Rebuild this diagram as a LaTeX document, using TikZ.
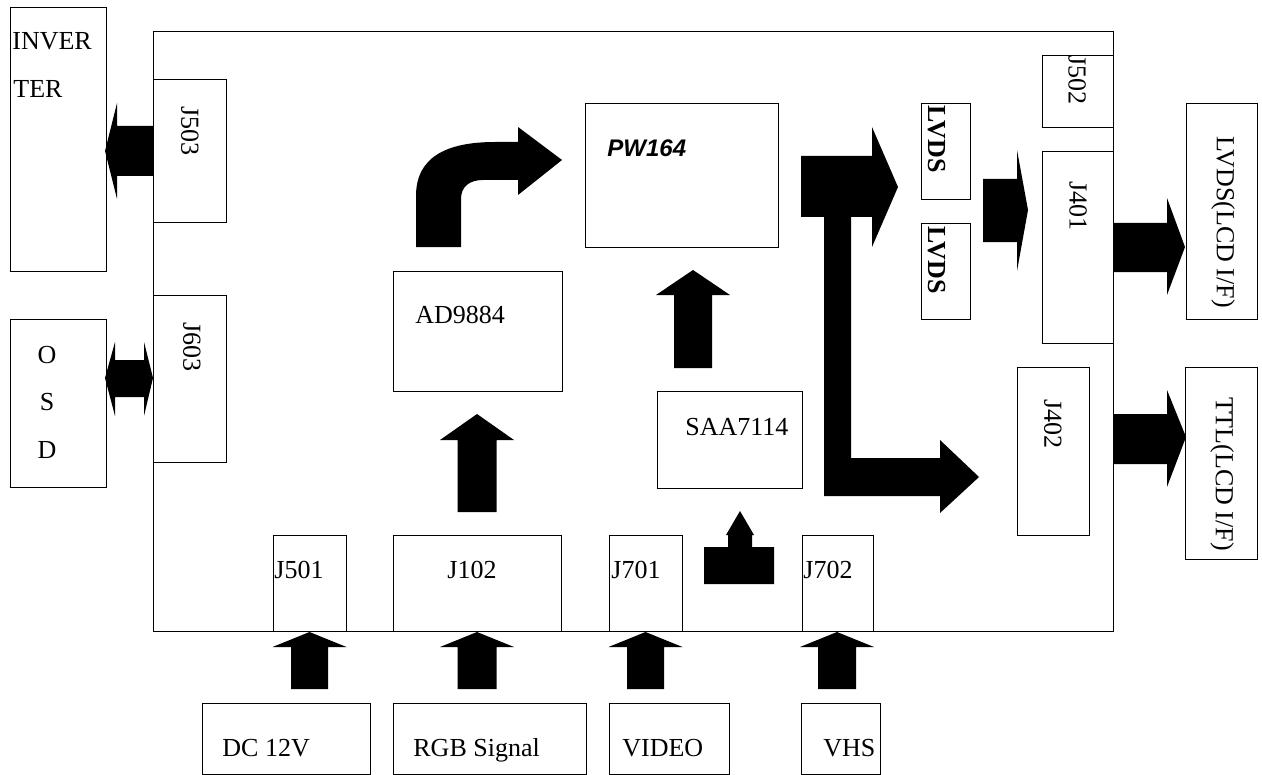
\documentclass[tikz,border=0pt]{standalone}
\usepackage{fontspec}
\setmainfont{Liberation Serif}
\newfontfamily\arialf{Liberation Sans}
\newcommand\bx[5]{\node[box, anchor=north west, minimum width={(#4-#2)*0.5pt}, minimum height={(#5-#3)*0.5pt}] (#1) at (#2,#3) {};}
\newcommand\uparr[6]{\fill[blk] (#1,#2) -- ({#1+#5},#3) -- ({#1+#6},#3) -- ({#1+#6},#4) -- ({#1-#6},#4) -- ({#1-#6},#3) -- ({#1-#5},#3) -- cycle;}
\begin{document}
\begin{tikzpicture}[x=0.5pt,y=-0.5pt,
  box/.style={draw=black, fill=white, line width=0.7pt, inner sep=0pt, rectangle},
  lbl/.style={font=\fontsize{13}{15}\selectfont, inner sep=0pt},
  blk/.style={fill=black}]
\useasboundingbox (0,0) rectangle (1262,775);
% board
\bx{board}{153}{31}{1113}{631}
% boxes
\bx{inverter}{10}{7}{106}{271}
\bx{j503}{153}{79}{226}{222}
\bx{osd}{10}{319}{106}{487}
\bx{j603}{153}{295}{226}{462}
\bx{ad9884}{393}{271}{562}{391}
\bx{pw164}{585}{103}{778}{247}
\bx{saa7114}{657}{391}{802}{488}
\bx{lvdsa}{921}{103}{970}{199}
\bx{lvdsb}{921}{223}{970}{319}
\bx{j502}{1042}{55}{1113}{127}
\bx{j401}{1042}{151}{1113}{343}
\bx{j402}{1017}{367}{1089}{535}
\bx{lcdlvds}{1186}{103}{1257}{319}
\bx{lcdttl}{1185}{367}{1257}{559}
\bx{j501}{273}{535}{346}{631}
\bx{j102}{393}{535}{561}{631}
\bx{j701}{609}{535}{682}{631}
\bx{j702}{802}{535}{873}{631}
\bx{dc}{202}{703}{370}{774}
\bx{rgb}{393}{703}{586}{774}
\bx{video}{609}{703}{729}{774}
\bx{vhs}{801}{703}{880}{774}
% labels
\node[lbl, anchor=west] (tinv1) at (12,41) {INVER};
\node[lbl, anchor=west] (tinv2) at (13,89) {TER};
\node[lbl] (to) at (47,355) {O};
\node[lbl] (ts) at (47,402) {S};
\node[lbl] (td) at (47,450) {D};
\node[lbl, rotate=-90] (tj503) at (190,131) {J503};
\node[lbl, rotate=-90] (tj603) at (192,347) {J603};
\node[lbl, anchor=west] (tad) at (415,315) {AD9884};
\node[lbl, anchor=west, font=\arialf\bfseries\itshape\fontsize{12}{14}\selectfont] (tpw) at (607,148) {PW164};
\node[lbl, anchor=west] (tsaa) at (685,427) {SAA7114};
\node[lbl, rotate=-90, font=\fontsize{13}{15}\selectfont\bfseries] (tlvdsa) at (937,139) {LVDS};
\node[lbl, rotate=-90, font=\fontsize{13}{15}\selectfont\bfseries] (tlvdsb) at (937,260) {LVDS};
\node[lbl, rotate=-90] (tj502) at (1077,80) {J502};
\node[lbl, rotate=-90] (tj401) at (1078,206) {J401};
\node[lbl, rotate=-90] (tj402) at (1053,424) {J402};
\node[lbl, rotate=-90] (tlcdl) at (1223,222) {LVDS(LCD I/F)};
\node[lbl, rotate=-90] (tlcdt) at (1222,474) {TTL(LCD I/F)};
\node[lbl, anchor=west] (tj501) at (274,570) {J501};
\node[lbl] (tj102) at (472,570) {J102};
\node[lbl, anchor=west] (tj701) at (611,570) {J701};
\node[lbl, anchor=west] (tj702) at (803,570) {J702};
\node[lbl, anchor=base west] (tdc) at (222,756) {DC 12V};
\node[lbl, anchor=base west] (trgb) at (413,756) {RGB Signal};
\node[lbl, anchor=base west] (tvid) at (622,756) {VIDEO};
\node[lbl, anchor=base west] (tvhs) at (823,756) {VHS};
% block arrows
% J503 -> INVERTER
\fill[blk] (105,151) -- (117,103) -- (117,126) -- (153,126) -- (153,176) -- (117,176) -- (117,199) -- cycle;
% OSD <-> J603
\fill[blk] (105,378) -- (115,342) -- (115,360) -- (144,360) -- (144,342) -- (153,378) -- (144,416) -- (144,397) -- (115,397) -- (115,416) -- cycle;
% AD9884 -> PW164 curved
\fill[blk] (416,247) -- (416,196) .. controls (416,158) and (445,142) .. (495,142) -- (518,142) -- (518,127) -- (562,160) -- (518,195) -- (518,180) -- (483,180) .. controls (469,180) and (461,187) .. (461,199) -- (461,247) -- cycle;
% SAA7114 -> PW164
\uparr{693}{270}{295}{368}{37}{19}
% J102 -> AD9884
\uparr{477}{414}{440}{512}{37}{19.5}
% inputs
\uparr{309.5}{632}{647}{689}{37}{18.5}
\uparr{477}{632}{647}{689}{37}{19.5}
\uparr{645.5}{632}{647}{689}{37}{18.5}
\uparr{837}{632}{647}{689}{37}{19}
% small T arrow
\fill[blk] (740,511) -- (754,535) -- (752,535) -- (752,547) -- (774,547) -- (774,584) -- (704,584) -- (704,547) -- (728,547) -- (728,535) -- (726,535) -- cycle;
% PW164 -> LVDS
\fill[blk] (801,156) -- (872,156) -- (872,127) -- (898,187) -- (872,247) -- (872,217) -- (801,217) -- cycle;
% L arrow to J402
\fill[blk] (824,200) -- (851,200) -- (851,458) -- (940,458) -- (940,440) -- (979,477) -- (940,513) -- (940,496) -- (824,496) -- cycle;
% LVDS -> J401
\fill[blk] (983,179) -- (1017,179) -- (1017,150) -- (1028,210) -- (1017,271) -- (1017,242) -- (983,242) -- cycle;
% outputs
\fill[blk] (1113,223) -- (1167,223) -- (1167,198) -- (1185,247) -- (1167,295) -- (1167,272) -- (1113,272) -- cycle;
\fill[blk] (1113,414) -- (1167,414) -- (1167,390) -- (1186,437) -- (1167,487) -- (1167,464) -- (1113,464) -- cycle;
\end{tikzpicture}
\end{document}
